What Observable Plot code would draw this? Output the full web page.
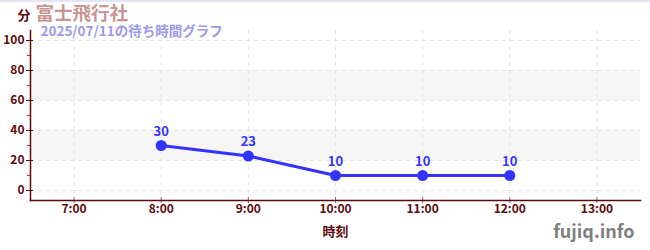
<!DOCTYPE html>
<html>
<head>
<meta charset="utf-8">
<script src="https://cdn.jsdelivr.net/npm/d3@7"></script>
<script src="https://cdn.jsdelivr.net/npm/@observablehq/plot@0.6"></script>
<style>
  html, body { margin: 0; padding: 0; background: #fff; }
  #wrap { position: relative; width: 650px; height: 250px; }
  #topline { position: absolute; left: 0; top: 0; width: 650px; height: 2px; background: #e4e4f6; }
  svg { font-family: "Noto Sans CJK JP", "Noto Sans", sans-serif; }
</style>
</head>
<body>
<div id="wrap"><div id="topline"></div></div>
<script>
// Wait times (minutes) for 富士飛行社 on 2025/07/11
const hours = [8, 9, 10, 11, 12];
const waits = [30, 23, 10, 10, 10];

// Axis ticks and shaded bands
const hourTicks = [7, 8, 9, 10, 11, 12, 13];
const yMajor = [0, 20, 40, 60, 80, 100];
const yMinor = [10, 30, 50, 70, 90];
const bandLo = [20, 60];
const bandHi = [40, 80];

const titleText = "富士飛行社";
const subtitleText = "2025/07/11の待ち時間グラフ";
const unitText = "分";
const xLabelText = "時刻";
const siteText = "fujiq.info";

const data = hours.map((h, i) => ({hour: h, wait: waits[i]}));
const bands = bandLo.map((lo, i) => ({lo, hi: bandHi[i]}));

const axisColor = "#5c0a0a";
const lineColor = "#3333ff";

const chart = Plot.plot({
  width: 650,
  height: 250,
  marginTop: 30,
  marginBottom: 50,
  marginLeft: 30,
  marginRight: 10,
  style: {fontFamily: "'Noto Sans CJK JP', 'Noto Sans', sans-serif", overflow: "visible"},
  x: {domain: [6.5, 13.5]},
  y: {domain: [-6.67, 106.67]},
  marks: [
    Plot.rect(bands, {y1: "lo", y2: "hi", fill: "#f6f6f6"}),
    Plot.gridY(yMajor, {stroke: "#e2e2e2", strokeOpacity: 1, strokeDasharray: "4,4"}),
    Plot.gridX(hourTicks, {stroke: "#e2e2e2", strokeOpacity: 1, strokeDasharray: "4,4"}),
    // y axis: major ticks with labels, cross ticks, red minor ticks
    Plot.axisY(yMajor, {tickSize: 4, tickPadding: 2, stroke: axisColor, fill: axisColor,
      fontSize: 12, fontWeight: "bold", label: null}),
    Plot.axisY(yMajor, {tickSize: -3, stroke: axisColor, tickFormat: () => "", label: null}),
    Plot.axisY(yMinor, {tickSize: 3, stroke: "#e02020", tickFormat: () => "", label: null}),
    // x axis
    Plot.axisX(hourTicks, {tickSize: 3, tickPadding: 1, stroke: "#777", fill: axisColor,
      fontSize: 12, fontWeight: "bold", tickFormat: d => `${d}:00`, label: null}),
    Plot.axisX(hourTicks, {tickSize: -3, stroke: "#777", tickFormat: () => "", label: null}),
    Plot.frame({anchor: "left", stroke: axisColor, strokeWidth: 1.5}),
    Plot.frame({anchor: "bottom", stroke: axisColor, strokeWidth: 1.5}),
    // wait-time series
    Plot.line(data, {x: "hour", y: "wait", stroke: lineColor, strokeWidth: 3}),
    Plot.dot(data, {x: "hour", y: "wait", r: 5.5, fill: lineColor}),
    Plot.text(data, {x: "hour", y: "wait", text: d => String(d.wait), dy: -14,
      fill: lineColor, fontSize: 13, fontWeight: "bold"}),
    // titles and labels
    Plot.text([unitText], {frameAnchor: "top-left", lineAnchor: "middle", dx: -13, dy: -15,
      fill: axisColor, fontSize: 13, fontWeight: "bold", textAnchor: "start"}),
    Plot.text([titleText], {frameAnchor: "top-left", lineAnchor: "middle", dx: 5, dy: -16,
      fill: "#c89494", fontSize: 18.5, fontWeight: "bold", textAnchor: "start"}),
    Plot.text([subtitleText], {frameAnchor: "top-left", lineAnchor: "middle", dx: 10, dy: 1.5,
      fill: "#9a9af0", fontSize: 13.5, fontWeight: "bold", textAnchor: "start"}),
    Plot.text([xLabelText], {frameAnchor: "bottom", lineAnchor: "middle", dy: 31,
      fill: axisColor, fontSize: 13, fontWeight: "bold"}),
    Plot.text([siteText], {frameAnchor: "bottom-right", lineAnchor: "middle", dx: -6, dy: 32,
      fill: "#808080", fontSize: 18, fontWeight: "bold", textAnchor: "end"})
  ]
});

document.getElementById("wrap").prepend(chart);
</script>
</body>
</html>
